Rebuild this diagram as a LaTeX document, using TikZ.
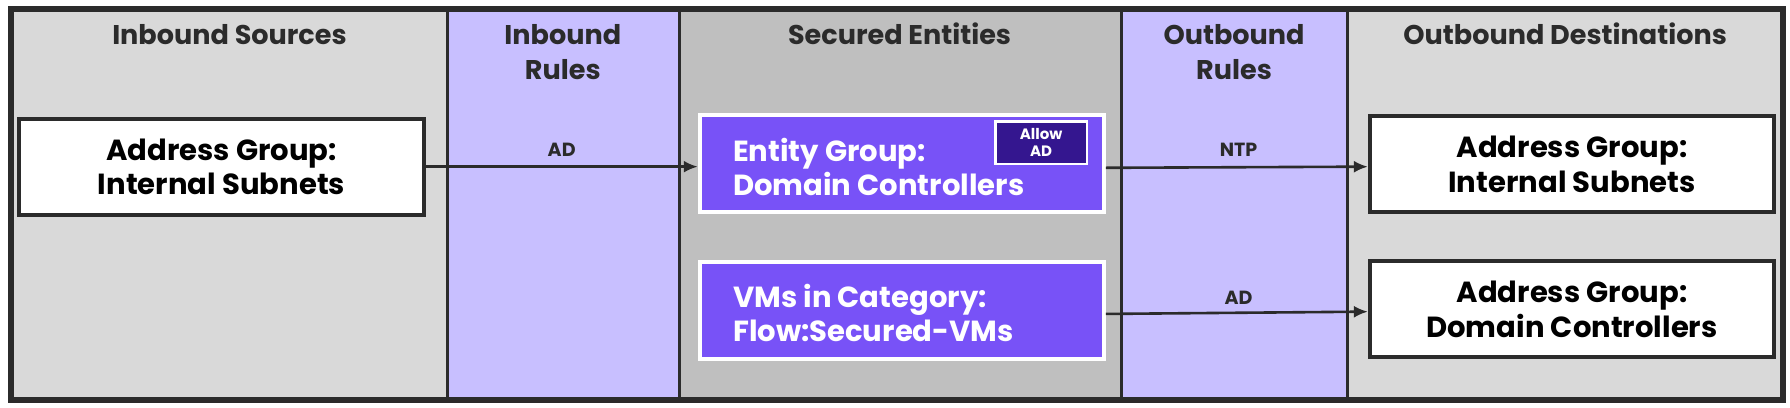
\documentclass[tikz,border=0pt]{standalone}
\usepackage{fontspec}
\usetikzlibrary{arrows.meta}
\setmainfont{Poppins}
\definecolor{gl}{HTML}{D9D9D9}
\definecolor{gm}{HTML}{BFBFBF}
\definecolor{lav}{HTML}{C8BFFF}
\definecolor{pur}{HTML}{7852F7}
\definecolor{dpur}{HTML}{34168F}
\definecolor{ink}{HTML}{2B2B2B}
\begin{document}
\begin{tikzpicture}[x=0.02cm,y=-0.02cm,
 hdr/.style={font=\fontsize{13.5}{17.5}\selectfont\bfseries,align=center,text=ink},
 wbox/.style={draw=ink,line width=2pt,fill=white,minimum width=354*0.02cm,minimum height=84*0.02cm,align=center,font=\fontsize{14.5}{17}\selectfont\bfseries,text=black},
 pbox/.style={draw=white,line width=2pt,fill=pur,minimum width=354*0.02cm,minimum height=85*0.02cm,font=\fontsize{14.5}{17}\selectfont\bfseries,text=white},
 ptxt/.style={anchor=west,text=white,font=\fontsize{14.5}{17}\selectfont\bfseries,align=left},
 lbl/.style={font=\fontsize{9.5}{11}\selectfont\bfseries,text=ink},
 arr/.style={draw=ink,line width=1.3pt,-{Latex[length=7pt,width=6pt]}}]
\useasboundingbox (0,0) rectangle (1568,357);
\fill[gl] (10,8) rectangle (392,350);
\fill[lav] (392,8) rectangle (595,350);
\fill[gm] (595,8) rectangle (982,350);
\fill[lav] (982,8) rectangle (1180,350);
\fill[gl] (1180,8) rectangle (1562,350);
\foreach \x in {392,595,982,1180} \draw[ink,line width=1.5pt] (\x,8) -- (\x,350);
\draw[ink,line width=3pt] (10,8) rectangle (1562,350);
\node[hdr] (h1) at (201,30) {Inbound Sources};
\node[hdr] (h2) at (493,46) {Inbound\\Rules};
\node[hdr] (h3) at (788,30) {Secured Entities};
\node[hdr] (h4) at (1081,46) {Outbound\\Rules};
\node[hdr] (h5) at (1371,30) {Outbound Destinations};
\node[wbox] (src) at (194,146) {Address Group:\\Internal Subnets};
\node[pbox] (eg) at (790,143) {};
\node[ptxt] (egt) at (636,146) {Entity Group:\\Domain Controllers};
\node[draw=white,line width=1.2pt,fill=dpur,minimum width=80*0.02cm,minimum height=37*0.02cm,align=center,text=white,font=\fontsize{7.5}{8.5}\selectfont\bfseries] (allow) at (912,125) {Allow\\AD};
\node[pbox] (vm) at (790,272) {};
\node[ptxt] (vmt) at (636,274) {VMs in Category:\\Flow:Secured-VMs};
\node[wbox] (d1) at (1377,144) {Address Group:\\Internal Subnets};
\node[wbox] (d2) at (1377,271) {Address Group:\\Domain Controllers};
\draw[arr] (src.east |- 0,146) -- (eg.west |- 0,146);
\draw[arr] (eg.east |- 0,147) -- (d1.west |- 0,146);
\draw[arr] (vm.east |- 0,275) -- (d2.west |- 0,273);
\node[lbl] (l1) at (492,131) {AD};
\node[lbl] (l2) at (1085,131) {NTP};
\node[lbl] (l3) at (1085,261) {AD};
\end{tikzpicture}
\end{document}
